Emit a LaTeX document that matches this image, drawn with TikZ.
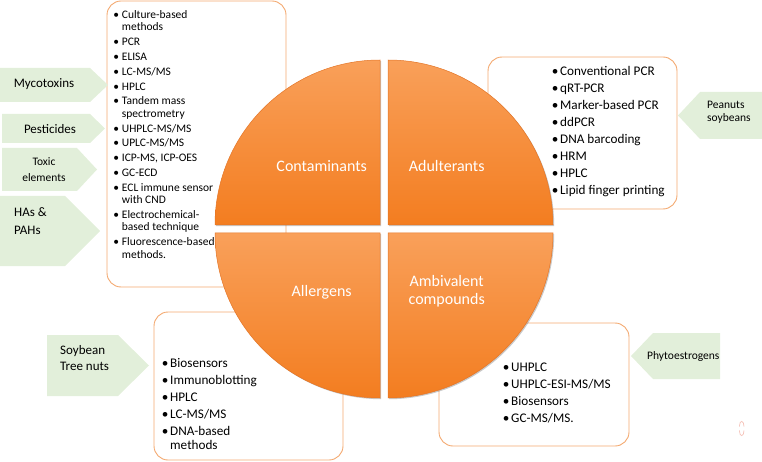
\documentclass[tikz,border=0pt]{standalone}
\usepackage{fontspec}
\setmainfont{Carlito}
\usetikzlibrary{shadows}
\definecolor{boxline}{HTML}{F4A970}
\definecolor{tagfill}{HTML}{E2EFDA}
\definecolor{qtop}{HTML}{F9A05A}
\definecolor{qbot}{HTML}{F37D20}
\definecolor{qedge}{HTML}{E47526}
\definecolor{marky}{HTML}{F5C2B8}
\newlength\bulw
\newcommand\bul{\makebox[\bulw][l]{•}}
\newcommand\ind{\hspace*{\bulw}}
\begin{document}
\begin{tikzpicture}[x=1pt,y=-1pt,
  listbox/.style={draw=boxline, line width=0.9pt, rounded corners=14pt, fill=white},
  tag/.style={fill=tagfill, draw=none},
  quarter/.style={top color=qtop, bottom color=qbot, draw=qedge, line width=0.5pt,
    drop shadow={shadow xshift=1.2pt, shadow yshift=-1.2pt, opacity=0.35, fill=black!60}},
  qlabel/.style={text=white, font=\fontsize{16}{17.6}\selectfont, inner sep=0pt, align=center},
  listtext/.style={inner sep=0pt, align=left, text=black, anchor=north west},
  bigitems/.style={font={\fontsize{13.2}{16.9}\selectfont\setlength\bulw{8.3pt}}},
  tagtext/.style={inner sep=0pt, text=black, font=\fontsize{13}{16}\selectfont},
  smalltag/.style={inner sep=0pt, text=black, font=\fontsize{11.5}{13.4}\selectfont}]
\useasboundingbox (0,0) rectangle (762,462);

% list boxes (behind the circle)
\draw[listbox] (107,1) rectangle (286,287);
\draw[listbox] (488,57) rectangle (677,209);
\draw[listbox] (154,312) rectangle (343,460);
\draw[listbox] (439,323) rectangle (629,446);

% quarters
\path[quarter] (380,225) -- (215,225) arc[start angle=180, end angle=270, radius=165] -- cycle;
\path[quarter] (388,225) -- (388,60) arc[start angle=270, end angle=360, radius=165] -- cycle;
\path[quarter] (388,233) -- (553,233) arc[start angle=0, end angle=90, radius=165] -- cycle;
\path[quarter] (380,233) -- (380,398) arc[start angle=90, end angle=180, radius=165] -- cycle;

\node[qlabel, anchor=base] (cont) at (321.7,171.7) {Contaminants};
\node[qlabel, anchor=base] (adul) at (446.7,171.7) {Adulterants};
\node[qlabel, anchor=base] (alle) at (321.7,296) {Allergens};
\node[qlabel, anchor=north] (ambi) at (446.7,274.4) {\strut Ambivalent\\compounds};

% lists
\node[listtext, font={\fontsize{11.5}{12.4}\selectfont\setlength\bulw{8.6pt}}] (contlist) at (113.1,9.6)
 {\strut\bul Culture-based\\ \ind methods\\[2.4pt]
  \bul PCR\\[2.4pt]
  \bul ELISA\\[2.4pt]
  \bul LC-MS/MS\\[2.4pt]
  \bul HPLC\\[2.4pt]
  \bul Tandem mass\\ \ind spectrometry\\[2.4pt]
  \bul UHPLC-MS/MS\\[2.4pt]
  \bul UPLC-MS/MS\\[2.4pt]
  \bul ICP-MS, ICP-OES\\[2.4pt]
  \bul GC-ECD\\[2.4pt]
  \bul ECL immune sensor\\ \ind with CND\\[2.4pt]
  \bul Electrochemical-\\ \ind based technique\\[2.4pt]
  \bul Fluorescence-based\\ \ind methods.};

\node[listtext, bigitems] (adullist) at (551.7,63.9)
 {\strut\bul Conventional PCR\\
  \bul qRT-PCR\\
  \bul Marker-based PCR\\
  \bul ddPCR\\
  \bul DNA barcoding\\
  \bul HRM\\
  \bul HPLC\\
  \bul Lipid finger printing};

\node[listtext, font={\fontsize{13.2}{14.3}\selectfont\setlength\bulw{8.3pt}}] (allelist) at (161.7,357.7)
 {\strut\bul Biosensors\\[2.6pt]
  \bul Immunoblotting\\[2.6pt]
  \bul HPLC\\[2.6pt]
  \bul LC-MS/MS\\[2.6pt]
  \bul DNA-based\\ \ind methods};

\node[listtext, bigitems] (ambilist) at (502.7,359.9)
 {\strut\bul UHPLC\\
  \bul UHPLC-ESI-MS/MS\\
  \bul Biosensors\\
  \bul GC-MS/MS.};

% green tags
\fill[tag] (0,68) -- (90,68) -- (108,85) -- (90,102) -- (0,102) -- cycle;
\fill[tag] (2,114) -- (90,114) -- (105,128.5) -- (90,143) -- (2,143) -- cycle;
\fill[tag] (2,148) -- (77,148) -- (97,169.5) -- (77,191) -- (2,191) -- cycle;
\fill[tag] (0,196) -- (65,196) -- (100,231) -- (65,266) -- (0,266) -- cycle;
\fill[tag] (47,335) -- (118,335) -- (149,365.5) -- (118,396) -- (47,396) -- cycle;
\fill[tag] (678,115.5) -- (700,92) -- (762,92) -- (762,139) -- (700,139) -- cycle;
\fill[tag] (631,356) -- (653,333) -- (720,333) -- (720,379) -- (653,379) -- cycle;

\node[tagtext, anchor=base] (myco) at (44,87.3) {Mycotoxins};
\node[tagtext, anchor=base] (pest) at (50,133.3) {Pesticides};
\node[smalltag, align=center, anchor=north, font=\fontsize{11.5}{16}\selectfont] (toxic) at (44,154.5) {\strut Toxic\\elements};
\node[tagtext, align=left, anchor=north west, font=\fontsize{13}{18}\selectfont] (has) at (14,203.4) {\strut HAs \&\\PAHs};
\node[tagtext, align=left, anchor=north west] (soy) at (60,342.8) {\strut Soybean\\Tree nuts};
\node[smalltag, align=left, anchor=north west] (pean) at (707,98.9) {\strut Peanuts\\soybeans};
\node[smalltag, anchor=base west] (phyto) at (647,359) {Phytoestrogens};

% small mark bottom right
\draw[marky, line width=0.7pt] (739.4,426.5) arc[start angle=180, end angle=360, x radius=2.3, y radius=5.2];
\draw[marky, line width=0.7pt] (739.4,430.5) arc[start angle=180, end angle=0, x radius=2.3, y radius=5.2];
\end{tikzpicture}
\end{document}
